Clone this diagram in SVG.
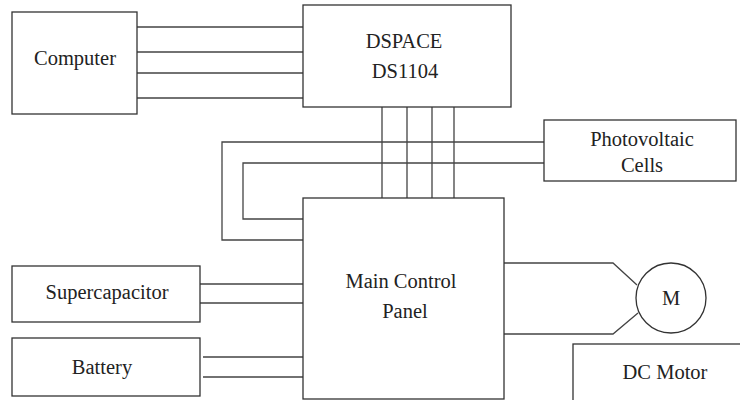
<svg xmlns="http://www.w3.org/2000/svg" width="740" height="400" viewBox="0 0 740 400">
<style>
.box{fill:#fff;stroke:#333;stroke-width:1.3}
.w{fill:none;stroke:#444;stroke-width:1.3}
.t{font-family:"Liberation Serif","Times New Roman",serif;font-size:20.5px;fill:#222;text-anchor:middle}
</style>
<rect width="740" height="400" fill="#fff"/>
<g id="connectors">
<path class="w" d="M137 27H303M137 52H303M137 73H303M137 98H303"/>
<path class="w" d="M382 107V198M407 107V198M432 107V198M454 107V198"/>
<path class="w" d="M544 142H222V240H303M544 163H243V219H303"/>
<path class="w" d="M200 284H303M200 303H303M203 357H303M203 377H303"/>
<path class="w" d="M504 263H613L637 285M504 334H613L638 313"/>
</g>
<g id="computer"><rect class="box" x="12" y="12" width="125" height="102"/><text class="t" x="75" y="65">Computer</text></g>
<g id="dspace"><rect class="box" x="303" y="5" width="208" height="102"/><text class="t" x="404" y="48">DSPACE</text><text class="t" x="405" y="78">DS1104</text></g>
<g id="pv"><rect class="box" x="544" y="120" width="192" height="61"/><text class="t" x="642" y="146">Photovoltaic</text><text class="t" x="642" y="172">Cells</text></g>
<g id="main"><rect class="box" x="303" y="198" width="201" height="201"/><text class="t" x="401" y="288">Main Control</text><text class="t" x="405" y="318">Panel</text></g>
<g id="supercap"><rect class="box" x="12" y="266" width="188" height="56"/><text class="t" x="107" y="299">Supercapacitor</text></g>
<g id="battery"><rect class="box" x="12" y="338" width="188" height="58"/><text class="t" x="102" y="374">Battery</text></g>
<g id="motor"><circle class="box" cx="671" cy="298" r="35"/><text class="t" x="671" y="305">M</text></g>
<g id="dcmotor"><rect class="box" x="573" y="344" width="180" height="70"/><text class="t" x="665" y="379">DC Motor</text></g>
</svg>
